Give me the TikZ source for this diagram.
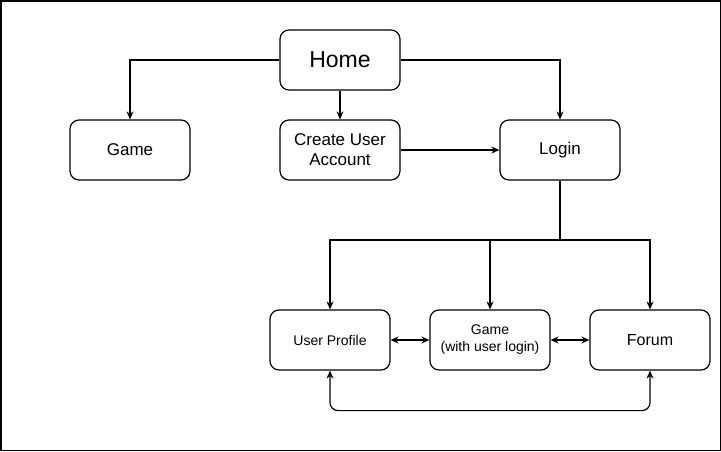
\documentclass[tikz,border=0pt]{standalone}
\usepackage{fontspec}
\setmainfont{Liberation Sans}
\usetikzlibrary{arrows.meta}
\begin{document}
\begin{tikzpicture}[x=1pt,y=-1pt,
  box/.style={draw, line width=1.2pt, rounded corners=9pt, minimum width=120pt, minimum height=60pt, align=center, inner sep=0pt, font=\fontsize{17}{20}\selectfont},
  small/.style={font=\fontsize{14}{17}\selectfont},
  conn/.style={line width=1.2pt, -{Stealth[length=8pt,width=7pt]}},
  dconn/.style={line width=1.2pt, {Stealth[length=8pt,width=7pt]}-{Stealth[length=8pt,width=7pt]}}]
\useasboundingbox (0,0) rectangle (721,451);
\draw[line width=1.5pt] (0.75,0.75) rectangle (720.25,450.25);
\node[box, font=\fontsize{23}{27}\selectfont] (home) at (340,60) {Home};
\node[box] (game) at (130,150) {Game};
\node[box] (create) at (340,150) {Create User\\Account};
\node[box] (login) at (560,150) {Login};
\node[box, small] (profile) at (330,340) {User Profile};
\node[box, small] (gamel) at (490,340) {Game\\(with user login)};
\node[box, font=\fontsize{16}{19}\selectfont] (forum) at (650,340) {Forum};
\draw[conn] (home.west) -| (game.north);
\draw[conn] (home.south) -- (create.north);
\draw[conn] (home.east) -| (login.north);
\draw[conn] (create.east) -- (login.west);
\coordinate (split) at (560,240);
\draw[conn] (login.south) -- (split) -| (profile.north);
\draw[conn] (split) -| (gamel.north);
\draw[conn] (split) -| (forum.north);
\draw[dconn] (profile.east) -- (gamel.west);
\draw[dconn] (gamel.east) -- (forum.west);
\draw[dconn, rounded corners=8pt] (profile.south) -- ++(0,40) -| (forum.south);
\end{tikzpicture}
\end{document}
